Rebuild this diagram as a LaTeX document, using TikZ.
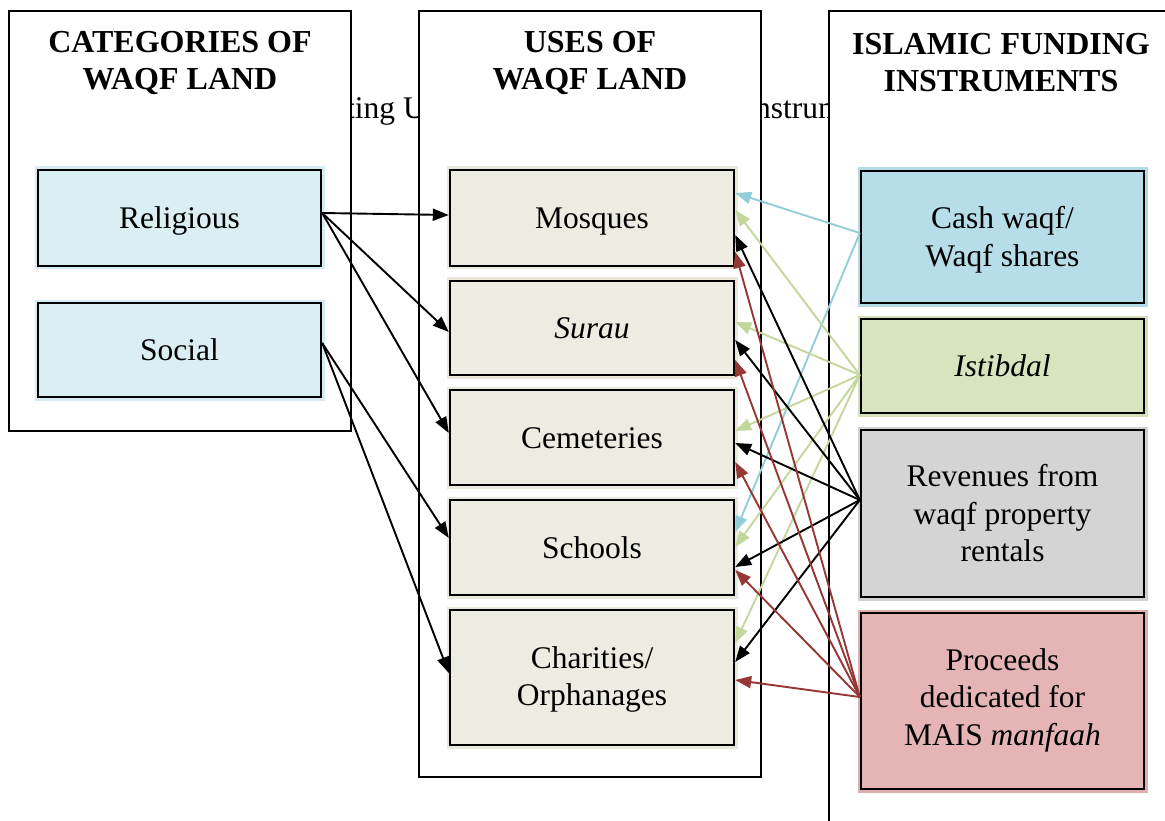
\documentclass[tikz,border=0pt]{standalone}
\usepackage{fontspec}
\setmainfont{Liberation Serif}
\usetikzlibrary{arrows.meta}

\definecolor{catfill}{HTML}{DAEEF3}
\definecolor{catedge}{HTML}{D6ECF2}
\definecolor{usefill}{HTML}{EEECE1}
\definecolor{useedge}{HTML}{EAE8DC}
\definecolor{cashfill}{HTML}{B6DDE8}
\definecolor{cashedge}{HTML}{B2DBE6}
\definecolor{istfill}{HTML}{D7E4BD}
\definecolor{istedge}{HTML}{D3E1B8}
\definecolor{revfill}{HTML}{D4D4D4}
\definecolor{revedge}{HTML}{D0D0D0}
\definecolor{procfill}{HTML}{E5B5B5}
\definecolor{procedge}{HTML}{DFAFAF}
\definecolor{arrblue}{HTML}{92CDDC}
\definecolor{arrgreen}{HTML}{C3D69B}
\definecolor{arrred}{HTML}{953735}

\begin{document}
\begin{tikzpicture}[x=1pt,y=-1pt,
  txt/.style={font=\fontsize{31.5}{37.5}\selectfont, align=center, inner sep=0pt},
  title/.style={font=\fontsize{32}{37}\selectfont\bfseries, align=center},
  frame/.style={draw=black, line width=2pt, fill=white},
  cbox/.style 2 args={draw=black, line width=2.4pt, fill=#1,
    preaction={draw=#2, line width=7pt},
    minimum width=283pt, inner sep=0pt},
  link/.style={line width=1.9pt, -{Triangle[length=16pt,width=12pt]}},
  blk/.style={link, draw=black},
  blu/.style={link, draw=arrblue, fill=arrblue},
  grn/.style={link, draw=arrgreen, fill=arrgreen},
  red/.style={link, draw=arrred, fill=arrred}]

\clip (0,0) rectangle (1165,821);
\fill[white] (0,0) rectangle (1165,821);

% caption line lying behind the column frames
\node[txt, anchor=base west] (capa) at (346,119) {ting U};
\node[txt, anchor=base west] (capb) at (755,119) {nstrum};

% column frames
\draw[frame] (9,11) rectangle (351,431);
\draw[frame] (419,11) rectangle (761,777);
\draw[frame] (829,11) rectangle (1185,845);

% column headings
\node[title] (t1) at (180,63) {CATEGORIES OF\\WAQF LAND};
\node[title] (t2) at (590,63) {USES OF\\WAQF LAND};
\node[title] (t3) at (1001,63) {ISLAMIC FUNDING\\INSTRUMENTS};

% categories
\node[cbox={catfill}{catedge}, minimum height=96pt] (rel) at (179.5,218) {};
\node[cbox={catfill}{catedge}, minimum height=94pt] (soc) at (179.5,350) {};

% uses
\node[cbox={usefill}{useedge}, minimum width=284pt, minimum height=96pt] (mosq) at (592,218) {};
\node[cbox={usefill}{useedge}, minimum width=284pt, minimum height=94pt] (surau) at (592,328) {};
\node[cbox={usefill}{useedge}, minimum width=284pt, minimum height=95pt] (cem) at (592,437.5) {};
\node[cbox={usefill}{useedge}, minimum width=284pt, minimum height=95pt] (sch) at (592,547.5) {};
\node[cbox={usefill}{useedge}, minimum width=284pt, minimum height=135pt] (char) at (592,677.5) {};

% funding instruments
\node[cbox={cashfill}{cashedge}, minimum height=132pt] (cash) at (1002.5,237) {};
\node[cbox={istfill}{istedge}, minimum height=94pt] (ist) at (1002.5,366) {};
\node[cbox={revfill}{revedge}, minimum height=167pt] (rev) at (1002.5,513.5) {};
\node[cbox={procfill}{procedge}, minimum height=176pt] (proc) at (1002.5,701) {};

% box texts
\node[txt] (rel-t) at ([yshift=-3pt]rel.center) {Religious};
\node[txt] (soc-t) at (soc.center) {Social};
\node[txt] (mosq-t) at ([yshift=-4pt]mosq.center) {Mosques};
\node[txt] (surau-t) at (surau.center) {\textit{Surau}};
\node[txt] (cem-t) at ([yshift=-1pt]cem.center) {Cemeteries};
\node[txt] (sch-t) at (sch.center) {Schools};
\node[txt] (char-t) at ([yshift=-2pt]char.center) {Charities/\\Orphanages};
\node[txt] (cash-t) at ([yshift=-3pt]cash.center) {Cash waqf/\\Waqf shares};
\node[txt] (ist-t) at (ist.center) {\textit{Istibdal}};
\node[txt] (rev-t) at (rev.center) {Revenues from\\waqf property\\rentals};
\node[txt] (proc-t) at ([yshift=1pt]proc.center) {Proceeds\\dedicated for\\MAIS \textit{manfaah}};

% categories to uses
\draw[blk] ([yshift=5pt]rel.east) -- ([yshift=3pt]mosq.west);
\draw[blk] ([yshift=5pt]rel.east) -- ([yshift=-4pt]surau.west);
\draw[blk] ([yshift=5pt]rel.east) -- ([yshift=4.5pt]cem.west);
\draw[blk] ([yshift=7pt]soc.east) -- ([yshift=9.5pt]sch.west);
\draw[blk] ([yshift=7pt]soc.east) -- ([yshift=4.5pt]char.west);

% cash waqf
\draw[blu] ([yshift=4pt]cash.west) -- ([yshift=25pt]mosq.east);
\draw[blu] ([yshift=4pt]cash.west) -- ([yshift=15.5pt]sch.east);

% istibdal
\draw[grn] ([yshift=-9pt]ist.west) -- ([yshift=8pt]mosq.east);
\draw[grn] ([yshift=-9pt]ist.west) -- ([yshift=6pt]surau.east);
\draw[grn] ([yshift=-9pt]ist.west) -- ([yshift=6.5pt]cem.east);
\draw[grn] ([yshift=-9pt]ist.west) -- ([yshift=0.5pt]sch.east);
\draw[grn] ([yshift=-9pt]ist.west) -- ([yshift=34.5pt]char.east);

% rental revenues
\draw[blk] ([yshift=13.5pt]rev.west) -- ([yshift=-17pt]mosq.east);
\draw[blk] ([yshift=13.5pt]rev.west) -- ([yshift=-12pt]surau.east);
\draw[blk] ([yshift=13.5pt]rev.west) -- ([yshift=-5.5pt]cem.east);
\draw[blk] ([yshift=13.5pt]rev.west) -- ([yshift=-19.5pt]sch.east);
\draw[blk] ([yshift=13.5pt]rev.west) -- ([yshift=15.5pt]char.east);

% MAIS proceeds
\draw[red] ([yshift=4pt]proc.west) -- ([yshift=-34pt]mosq.east);
\draw[red] ([yshift=4pt]proc.west) -- ([yshift=-32pt]surau.east);
\draw[red] ([yshift=4pt]proc.west) -- ([yshift=-24.5pt]cem.east);
\draw[red] ([yshift=4pt]proc.west) -- ([yshift=-22.5pt]sch.east);
\draw[red] ([yshift=4pt]proc.west) -- ([yshift=-2.5pt]char.east);
\end{tikzpicture}
\end{document}
